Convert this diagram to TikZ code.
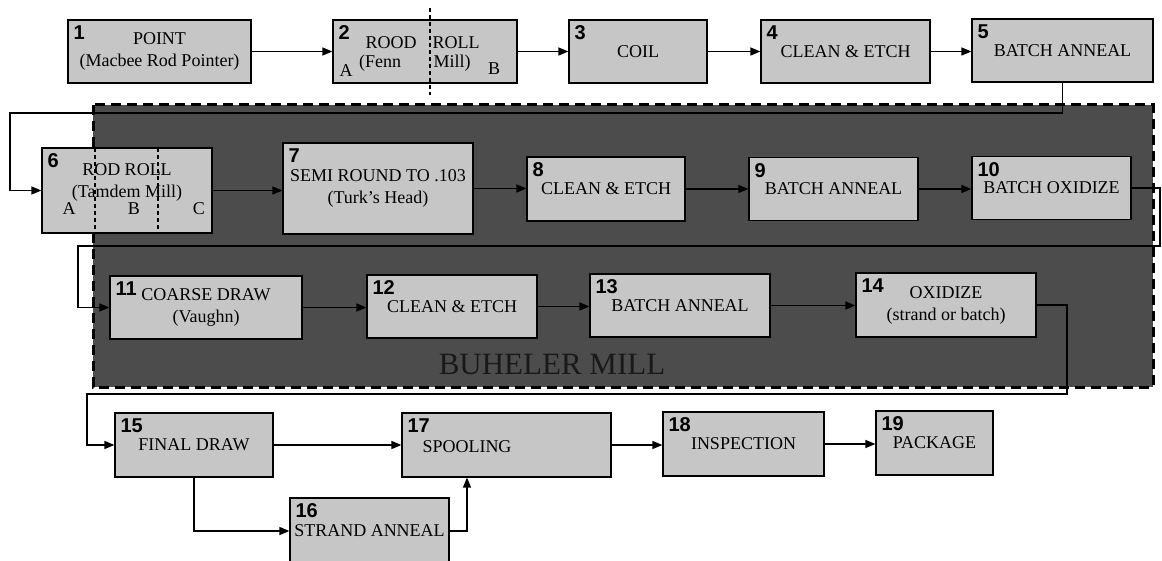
\documentclass[tikz,border=0pt]{standalone}
\usepackage{fontspec}
\setmainfont{Liberation Serif}
\newfontfamily\numfont{Liberation Sans}
\usetikzlibrary{arrows.meta}

\begin{document}
\begin{tikzpicture}[x=1pt, y=-1pt,
  every node/.style={font=\fontsize{18}{22}\selectfont},
  box/.style={draw, line width=1.2pt, fill=gray!45, inner sep=0pt, align=center},
  size/.style 2 args={minimum width=#1pt, minimum height=#2pt},
  num/.style={anchor=north west, inner sep=0pt, xshift=6pt, yshift=-6pt,
    font=\numfont\bfseries\fontsize{20}{20}\selectfont},
  conn/.style={line width=1.4pt, -{Triangle[length=10pt,width=8pt]}},
  divider/.style={line width=1.1pt, dash pattern=on 4pt off 3pt}]
  \useasboundingbox (0,0) rectangle (1162,561);

  % buheler mill
  \draw[fill=black!70, line width=3pt, dash pattern=on 10pt off 6pt] (93,105) rectangle (1153,387);
  \node[font=\fontsize{31}{31}\selectfont, text=black!90] (mill) at (552,365) {BUHELER MILL};

  % turning points
  \coordinate (t1) at (10,113);
  \coordinate (t2) at (1160,246);
  \coordinate (t3) at (78,246);
  \coordinate (t4) at (1067,394);
  \coordinate (t5) at (87,394);
  \coordinate (t6) at (467,500);

  % row one
  \node[box, size={183}{63}, label={[num]north west:1}] (s1) at (159.5,51.5) {POINT\\(Macbee Rod Pointer)};
  \node[box, size={184}{63}, label={[num]north west:2}] (s2) at (425,51.5) {};
  \node[box, size={138}{63}, label={[num]north west:3}] (s3) at (638,51.5) {COIL};
  \node[box, size={169}{63}, label={[num]north west:4}] (s4) at (845.5,51.5) {CLEAN \& ETCH};
  \node[box, size={181}{63}, label={[num]north west:5}] (s5) at (1062.5,50.5) {BATCH ANNEAL};

  \draw[divider] (430,8) -- (430,95);
  \node (r2a) at (391,43) {ROOD};
  \node (r2b) at (456,43) {ROLL};
  \node (a2) at (346,71) {A};
  \node (f2) at (380,63) {(Fenn};
  \node (m2) at (452,63) {Mill)};
  \node (b2) at (494,69) {B};

  % row two
  \node[box, size={170}{85}, label={[num]north west:6}] (s6) at (127,190.5) {};
  \node[box, size={190}{91}, label={[num]north west:7}] (s7) at (378,188.5) {SEMI ROUND TO .103\\(Turk's Head)};
  \node[box, size={158}{64}, label={[num]north west:8}] (s8) at (606,189) {CLEAN \& ETCH};
  \node[box, size={169}{63}, label={[num]north west:9}] (s9) at (833.5,189) {BATCH ANNEAL};
  \node[box, size={159}{63}, label={[num]north west:10}] (s10) at (1051.5,188) {BATCH OXIDIZE};

  \draw[divider] (95,148) -- (95,233);
  \draw[divider] (158,148) -- (158,233);
  \node[align=center] (r6) at (127,182) {ROD ROLL\\(Tamdem Mill)};
  \node (a6) at (69,209) {A};
  \node (b6) at (134,209) {B};
  \node (c6) at (199,209) {C};

  % row three
  \node[box, size={192}{63}, label={[num]north west:11}] (s11) at (206,307.5) {COARSE DRAW\\(Vaughn)};
  \node[box, size={170}{63}, label={[num]north west:12}] (s12) at (452,306.5) {CLEAN \& ETCH};
  \node[box, size={180}{63}, label={[num]north west:13}] (s13) at (680,305.5) {BATCH ANNEAL};
  \node[box, size={180}{64}, label={[num]north west:14}] (s14) at (946,305) {OXIDIZE\\(strand or batch)};

  % row four
  \node[box, size={158}{64}, label={[num]north west:15}] (s15) at (194,445) {FINAL DRAW};
  \node[box, size={159}{66}, label={[num]north west:16}] (s16) at (369.5,531) {STRAND ANNEAL};
  \node[box, size={209}{64}, label={[num]north west:17}] (s17) at (506.5,445) {};
  \node[box, size={161}{64}, label={[num]north west:18}] (s18) at (743.5,444) {INSPECTION};
  \node[box, size={117}{64}, label={[num]north west:19}] (s19) at (934.5,443) {PACKAGE};
  \node (l17) at (467,447) {SPOOLING};

  % connectors
  \draw[conn] (s1.east) -- (s1.east -| s2.west);
  \draw[conn] (s2.east) -- (s2.east -| s3.west);
  \draw[conn] (s3.east) -- (s3.east -| s4.west);
  \draw[conn] (s4.east) -- (s4.east -| s5.west);
  \draw[conn] (s5.south) |- (t1) |- (s6.west);
  \draw[conn] (s6.east) -- (s6.east -| s7.west);
  \draw[conn] (s7.east) -- (s7.east -| s8.west);
  \draw[conn] (s8.east) -- (s8.east -| s9.west);
  \draw[conn] (s9.east) -- (s9.east -| s10.west);
  \draw[conn] (s10.east) -| (t2) -- (t3) |- (s11.west);
  \draw[conn] (s11.east) -- (s11.east -| s12.west);
  \draw[conn] (s12.east) -- (s12.east -| s13.west);
  \draw[conn] (s13.east) -- (s13.east -| s14.west);
  \draw[conn] (s14.east) -| (t4) -- (t5) |- (s15.west);
  \draw[conn] (s15.east) -- (s15.east -| s17.west);
  \draw[conn] (s15.south) |- (s16.west);
  \draw[conn] (s16.east) -- (s16.east -| t6) -- (t6 |- s17.south);
  \draw[conn] (s17.east) -- (s17.east -| s18.west);
  \draw[conn] (s18.east) -- (s18.east -| s19.west);
\end{tikzpicture}
\end{document}
